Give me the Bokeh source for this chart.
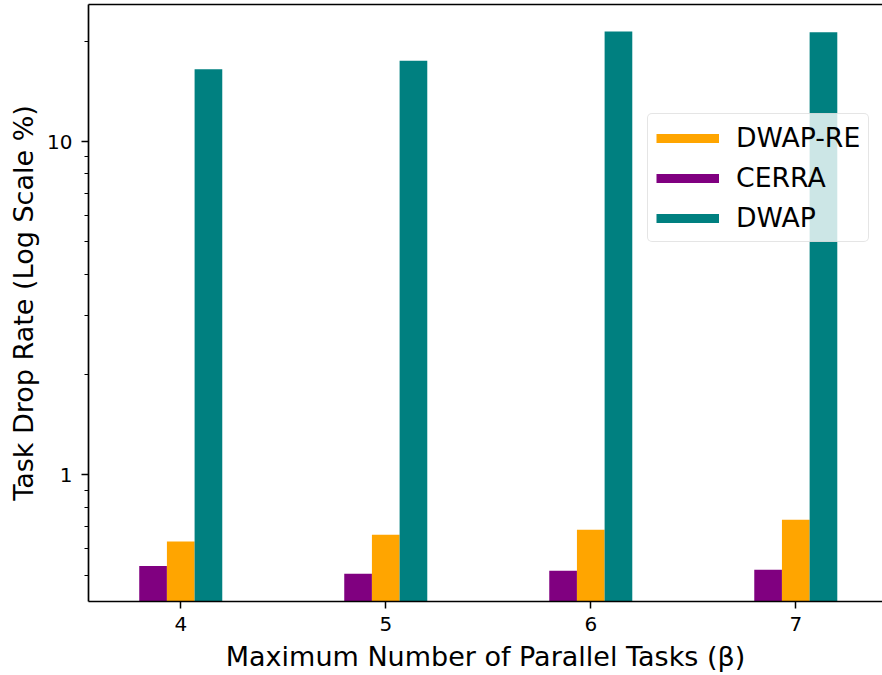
from bokeh.plotting import figure
from bokeh.models import (FixedTicker, BasicTickFormatter, LinearAxis, Legend,
                          LegendItem, Range1d)
from bokeh.embed import file_html
from bokeh.resources import INLINE

# Task drop rate (%) per maximum number of parallel tasks
beta = [4, 5, 6, 7]
cerra = [0.533, 0.505, 0.516, 0.519]
dwap_re = [0.631, 0.661, 0.685, 0.734]
dwap = [16.5, 17.5, 21.4, 21.3]

y_major = [1, 10]
y_minor = [0.5, 0.6, 0.7, 0.8, 0.9, 2, 3, 4, 5, 6, 7, 8, 9, 20]

PURPLE = "#800080"
ORANGE = "#FFA500"
TEAL = "#008080"
FONT = "DejaVu Sans"

bar_w = 0.135

p = figure(width=882, height=675, y_axis_type="log",
           x_range=Range1d(3.55, 7.423), y_range=Range1d(0.417, 25.8),
           output_backend="svg", toolbar_location=None,
           min_border_left=88, min_border_right=0,
           min_border_top=4, min_border_bottom=74)
p.outline_line_color = None
p.grid.visible = False
p.background_fill_color = "white"
p.border_fill_color = "white"

x_cerra = [b - bar_w for b in beta]
x_re = [b for b in beta]
x_dwap = [b + bar_w for b in beta]
base = 0.01

p.vbar(x=x_cerra, top=cerra, bottom=base, width=bar_w, fill_color=PURPLE, line_color=None)
p.vbar(x=x_re, top=dwap_re, bottom=base, width=bar_w, fill_color=ORANGE, line_color=None)
p.vbar(x=x_dwap, top=dwap, bottom=base, width=bar_w, fill_color=TEAL, line_color=None)

# axes
for ax in (p.xaxis[0], p.yaxis[0]):
    ax.axis_line_width = 1.7
    ax.axis_line_color = "black"
    ax.major_tick_line_width = 1.5
    ax.minor_tick_line_width = 1.2
    ax.major_tick_line_color = "black"
    ax.minor_tick_line_color = "black"
    ax.major_tick_in = 0
    ax.major_tick_out = 7
    ax.minor_tick_in = 0
    ax.minor_tick_out = 4
    ax.major_label_text_font = FONT
    ax.major_label_text_font_size = "20px"
    ax.major_label_text_color = "black"
    ax.axis_label_text_font = FONT
    ax.axis_label_text_font_size = "27px"
    ax.axis_label_text_font_style = "normal"
    ax.axis_label_text_color = "black"

p.xaxis.ticker = FixedTicker(ticks=beta, minor_ticks=[])
p.xaxis.axis_label = "Maximum Number of Parallel Tasks (β)"
p.xaxis.major_label_standoff = 8
p.xaxis.axis_label_standoff = 7

p.yaxis.ticker = FixedTicker(ticks=y_major, minor_ticks=y_minor)
p.yaxis.formatter = BasicTickFormatter()
p.yaxis.axis_label = "Task Drop Rate (Log Scale %)"
p.yaxis.major_label_standoff = 9
p.yaxis.axis_label_standoff = 5

# top spine
top = LinearAxis(ticker=FixedTicker(ticks=[]), major_label_text_font_size="0px",
                 major_tick_out=0, major_tick_in=0, minor_tick_out=0, minor_tick_in=0,
                 major_label_standoff=0, axis_line_width=1.7, axis_line_color="black")
p.add_layout(top, "above")

# legend with thick line swatches (single-point lines draw nothing in the plot)
l_re = p.line(x=[beta[0]], y=[dwap_re[0]], line_color=ORANGE, line_width=9)
l_ce = p.line(x=[beta[0]], y=[cerra[0]], line_color=PURPLE, line_width=9)
l_dw = p.line(x=[beta[0]], y=[dwap[0]], line_color=TEAL, line_width=9)
legend = Legend(items=[LegendItem(label="DWAP-RE", renderers=[l_re]),
                       LegendItem(label="CERRA", renderers=[l_ce]),
                       LegendItem(label="DWAP", renderers=[l_dw])],
                location=(559, 359), margin=0, padding=8, spacing=9,
                glyph_width=63, glyph_height=30, label_height=30,
                label_standoff=17, label_text_font=FONT,
                label_text_font_size="26.7px", label_text_color="black",
                border_line_color="#cccccc", border_line_width=1.5,
                background_fill_color="white", background_fill_alpha=0.8)
try:
    legend.border_radius = 5
except Exception:
    pass
p.add_layout(legend)

open("out.html", "w").write(file_html(p, INLINE))
